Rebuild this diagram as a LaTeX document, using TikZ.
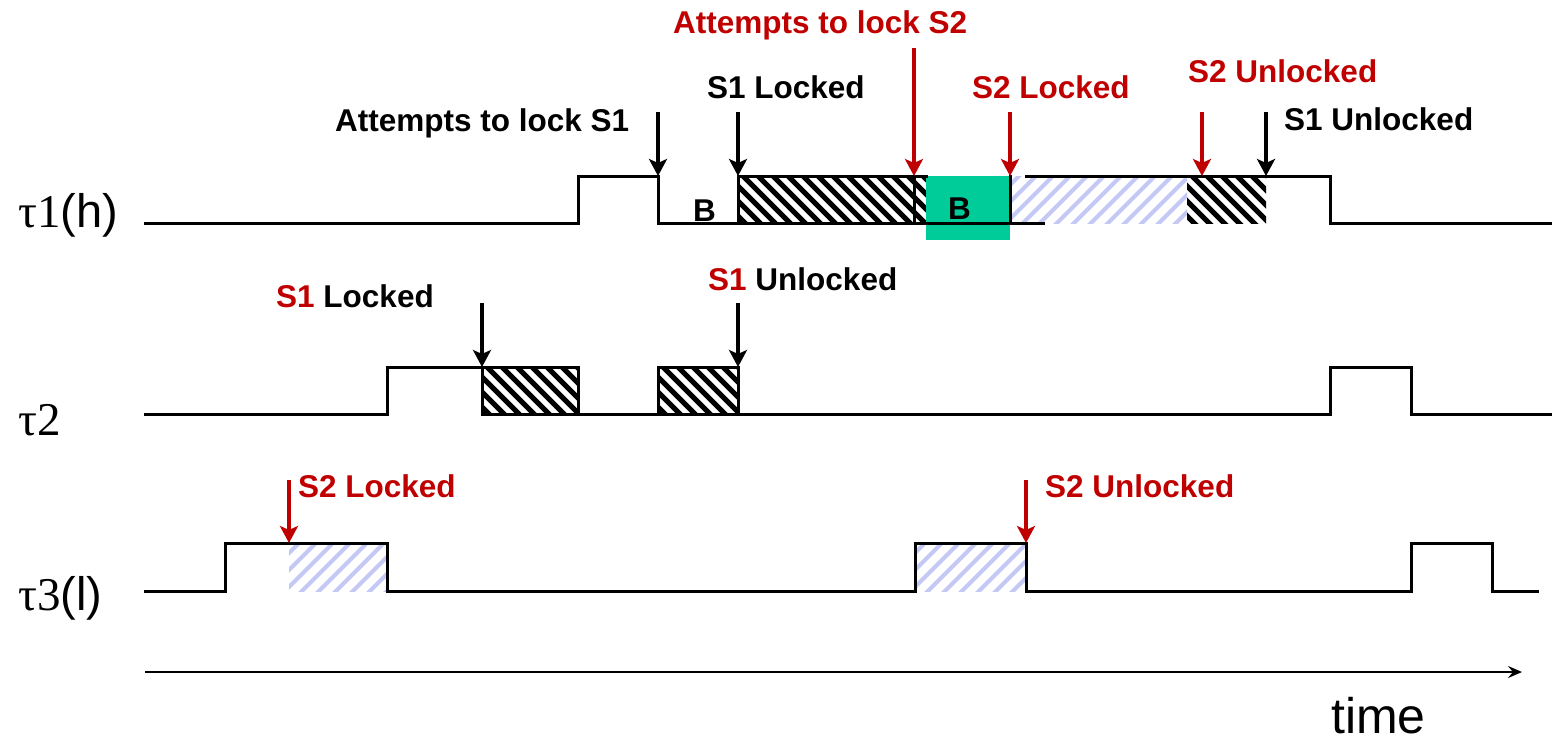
\documentclass[tikz,border=0pt]{standalone}
\usepackage{fontspec}
\setmainfont{Liberation Sans}
\newfontfamily\greekserif{Liberation Serif}
\usetikzlibrary{arrows.meta}

\definecolor{lockred}{RGB}{192,0,0}
\definecolor{blockgreen}{RGB}{0,204,153}
\definecolor{hatchblue}{RGB}{196,200,244}

% black hatching, stripes falling to the right
\newcommand\blackhatch[4]{%
  \begin{scope}
    \clip (#1,#2) rectangle (#3,#4);
    \foreach \k in {0,...,24}{\draw[hatchk] ({#1-60+15*\k},{#2-5}) -- ++(60,60);}
  \end{scope}}
% light blue hatching, stripes rising to the right
\newcommand\bluehatch[4]{%
  \begin{scope}
    \clip (#1,#2) rectangle (#3,#4);
    \foreach \k in {0,...,22}{\draw[hatchb] ({#1-60+17*\k},{#4+5}) -- ++(60,-60);}
  \end{scope}}

\begin{document}
\begin{tikzpicture}[x=1pt,y=-1pt,
  sig/.style={line width=3pt,line join=miter,line cap=rect},
  hatchk/.style={line width=5pt,black},
  hatchb/.style={line width=4pt,hatchblue},
  lbl/.style={font=\bfseries\fontsize{31.5}{36}\selectfont,inner sep=0pt,anchor=base west},
  tasklbl/.style={font=\fontsize{47}{52}\selectfont,inner sep=0pt,anchor=base west},
  blk/.style={line width=4pt,-{Stealth[length=17pt,width=18pt,inset=4pt]}},
  redarr/.style={blk,draw=lockred,color=lockred},
  axis/.style={line width=2pt,-{Stealth[length=14pt,width=12pt,inset=5pt]}}]

\useasboundingbox (0,0) rectangle (1552,747);

% ---------- task labels ----------
\node[tasklbl] (t1) at (18,227) {{\greekserif τ1}(h)};
\node[tasklbl] (t2) at (18,435) {{\greekserif τ2}};
\node[tasklbl] (t3) at (18,610) {{\greekserif τ3}(l)};

% ---------- task 1 (high) ----------
\blackhatch{738}{176}{926}{223}
\fill[blockgreen] (926,176) rectangle (1010,240);
\bluehatch{1010}{176}{1187}{223}
\blackhatch{1187}{176}{1266}{223}
\draw[sig] (145,223) -- (578,223) -- (578,176) -- (658,176) -- (658,223) -- (1043,223);
\draw[sig] (738,223) -- (738,176) -- (926,176);
\draw[sig] (914,176) -- (914,223);
\draw[sig] (1010,176) -- (1010,223);
\draw[sig] (1026,176) -- (1330,176) -- (1330,223) -- (1552,223);
\node[lbl] (b1) at (693,221) {B};
\node[lbl] (b2) at (948,219) {B};

% ---------- task 2 ----------
\blackhatch{482}{367}{578}{414}
\blackhatch{658}{367}{738}{414}
\draw[sig] (145,414) -- (387,414) -- (387,367) -- (482,367);
\draw[sig] (482,367) rectangle (578,414);
\draw[sig] (578,414) -- (658,414);
\draw[sig] (658,367) rectangle (738,414);
\draw[sig] (738,414) -- (1330,414) -- (1330,367) -- (1411,367) -- (1411,414) -- (1552,414);

% ---------- task 3 (low) ----------
\bluehatch{289}{543}{387}{591}
\bluehatch{915}{543}{1026}{591}
\draw[sig] (145,591) -- (225,591) -- (225,543) -- (387,543) -- (387,591) -- (915,591)
  -- (915,543) -- (1026,543) -- (1026,591) -- (1411,591) -- (1411,543) -- (1492,543)
  -- (1492,591) -- (1537,591);

% ---------- event labels ----------
\node[lbl] (l1) at (335,131) {Attempts to lock S1};
\node[lbl] (l2) at (707,98) {S1 Locked};
\node[lbl,text=lockred] (l3) at (673,33) {Attempts to lock S2};
\node[lbl,text=lockred] (l4) at (972,98) {S2 Locked};
\node[lbl,text=lockred] (l5) at (1188,82) {S2 Unlocked};
\node[lbl] (l6) at (1284,130) {S1 Unlocked};
\node[lbl] (l7) at (276,307) {\textcolor{lockred}{S1} Locked};
\node[lbl] (l8) at (708,290) {\textcolor{lockred}{S1} Unlocked};
\node[lbl,text=lockred] (l9) at (298,497) {S2 Locked};
\node[lbl,text=lockred] (l10) at (1045,497) {S2 Unlocked};

% ---------- event arrows ----------
\coordinate (a1s) at (658,112);  \coordinate (a1e) at (658,176);
\coordinate (a2s) at (738,112);  \coordinate (a2e) at (738,176);
\coordinate (a3s) at (914,48);   \coordinate (a3e) at (914,176);
\coordinate (a4s) at (1010,112); \coordinate (a4e) at (1010,176);
\coordinate (a5s) at (1202,112); \coordinate (a5e) at (1202,176);
\coordinate (a6s) at (1266,112); \coordinate (a6e) at (1266,176);
\coordinate (a7s) at (482,303);  \coordinate (a7e) at (482,367);
\coordinate (a8s) at (738,303);  \coordinate (a8e) at (738,367);
\coordinate (a9s) at (289,480);  \coordinate (a9e) at (289,543);
\coordinate (a10s) at (1026,480); \coordinate (a10e) at (1026,543);
\draw[blk] (a1s) -- (a1e);
\draw[blk] (a2s) -- (a2e);
\draw[redarr] (a3s) -- (a3e);
\draw[redarr] (a4s) -- (a4e);
\draw[redarr] (a5s) -- (a5e);
\draw[blk] (a6s) -- (a6e);
\draw[blk] (a7s) -- (a7e);
\draw[blk] (a8s) -- (a8e);
\draw[redarr] (a9s) -- (a9e);
\draw[redarr] (a10s) -- (a10e);

% ---------- time axis ----------
\coordinate (ax0) at (145,672);
\coordinate (ax1) at (1522,672);
\draw[axis] (ax0) -- (ax1);
\node[font=\fontsize{50}{56}\selectfont,inner sep=0pt,anchor=base west] (time) at (1331,733) {time};
\end{tikzpicture}
\end{document}
